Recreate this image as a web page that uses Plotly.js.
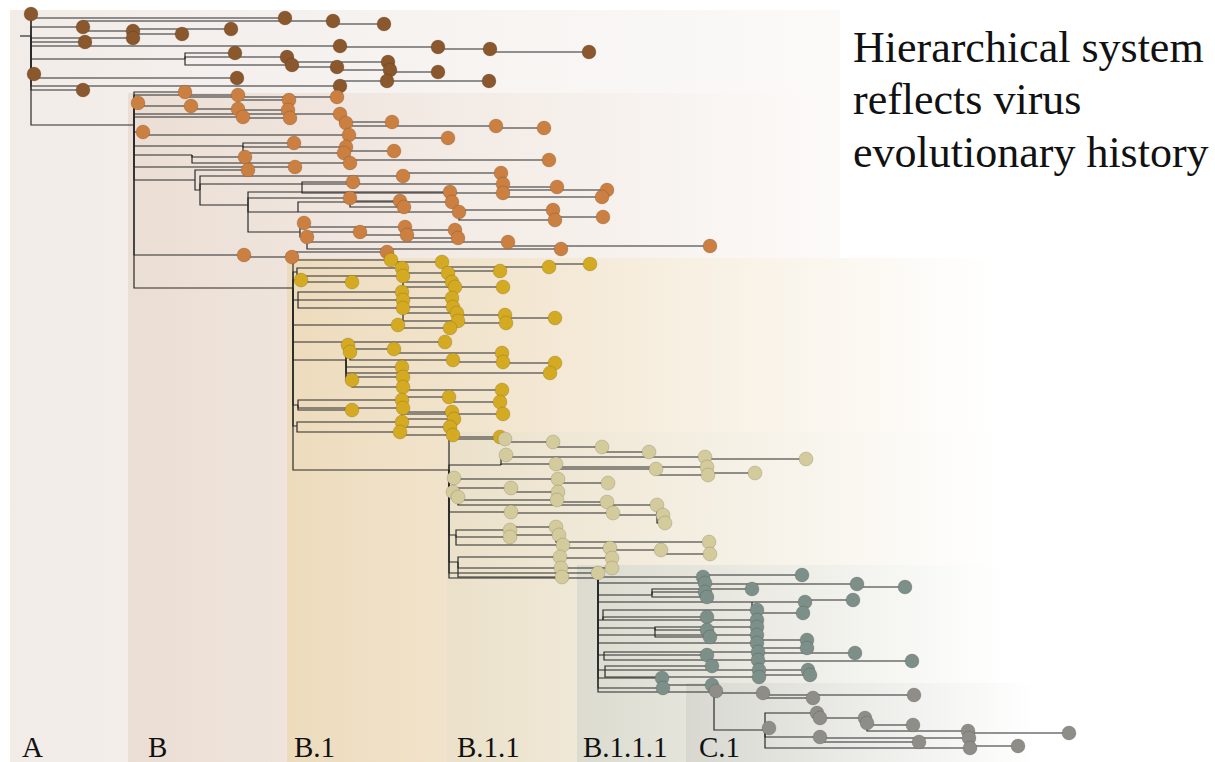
<!DOCTYPE html>
<html>
<head>
<meta charset="utf-8">
<script src="https://cdn.plot.ly/plotly-3.0.1.min.js"></script>
<style>html,body{margin:0;padding:0;background:#fff}#chart{width:1215px;height:762px}</style>
</head>
<body>
<div id="chart"></div>
<script>
// ---------------- DATA ----------------
// Tree nodes per lineage: [id, parentId, branchDepth, rowOrder, isSample]
const nodesA = [
  ['r',null,20,36,0],['a0','r',31,36,0],
  ['a1','a0',31,14,1],['a2','a0',83,27,1],['a3','a0',285,18,1],['a4','a2',333,21,1],['a5','a4',384,24,1],
  ['a6','a2',133,31,1],['a7','a6',231,29,1],['a8','a6',182,34,1],['a9','a0',133,38,1],['a10','a0',85,42,1],
  ['a11','a0',340,46,1],['a12','a11',438,47,1],['a13','a12',490,49,1],['a14','a13',589,52,1],
  ['a15','a0',185,59,0],['a16','a15',235,53,1],['a17','a15',287,57,1],['a18','a15',292,65,1],
  ['a19','a18',337,67,1],['a20','a17',388,62,1],['a21','a19',390,70,1],['a22','a21',438,72,1],
  ['a23','a0',34,74,1],['a24','a0',237,78,1],['a26','a0',340,86,1],['a27','a26',387,81,1],
  ['a28','a27',489,81,1],['a29','a0',83,90,1]
];
const nodesB = [
  ['bS','a0',134,125,0],
  ['b1','bS',185,92,1],['b2','b1',337,97,1],['b3','bS',238,95,1],['b4','b3',289,100,1],['b5','bS',138,103,1],
  ['b6','bS',191,106,1],['b7','b6',238,109,1],['b8','b7',288,110,1],['b9','b7',290,118,1],['b10','bS',243,117,1],
  ['b11','bS',340,114,1],['b12','b11',346,123,1],['b13','b12',392,122,1],['b14','b12',496,126,1],['b15','b14',544,128,1],
  ['b16','bS',143,132,1],['b17','b16',349,135,1],['b18','b17',448,138,1],
  ['b19','bS',243,146,0],['b20','b19',294,143,1],['b21','b19',346,147,1],['b22','b19',344,153,1],['b23','b22',394,151,1],
  ['b24','bS',192,155,0],['b25','b24',245,157,1],['b26','b24',350,163,1],['b27','b26',549,160,1],
  ['b28','bS',295,167,1],
  ['b30','bS',195,180,0],['b29','b30',248,170,1],['b32','b30',200,190,0],['b31','b32',403,176,1],['b33','b31',501,173,1],
  ['b34','b32',302,184,0],['b35','b34',353,182,1],['b36','b34',503,184,1],['b37','b34',503,193,1],
  ['b38','b36',557,187,1],['b39','b37',607,190,1],['b40','b37',602,197,1],
  ['b41','b32',248,205,0],['b45','b41',450,192,1],['b42','b41',350,198,1],['b43','b42',400,201,1],['b44','b42',404,207,1],
  ['b46','b41',298,212,0],['b47','b46',452,202,1],['b48','b46',459,212,1],['b49','b48',553,210,1],['b50','b48',555,220,1],['b51','b50',603,217,1],
  ['b53','b41',300,232,0],['b54','b53',304,223,1],['b55','b53',307,237,1],['b56','b55',360,232,1],['b57','b54',405,227,1],
  ['b58','b56',407,235,1],['b59','b57',455,230,1],['b60','b58',458,238,1],['b61','b55',508,242,1],['b62','b55',561,249,1],['b63','b61',710,246,1],
  ['b64','bS',244,255,1],['b65','b64',292,257,1],['b66','b65',387,252,1]
];
const nodesB1 = [
  ['c0','bS',293,288,0],
  ['c1','c0',391,260,1],['c2','c1',442,262,1],['c3','c2',549,267,1],['c4','c3',590,264,1],
  ['c5','c0',297,272,0],['c6','c5',402,268,1],['c7','c5',403,276,1],['c8','c6',448,273,1],['c9','c8',500,271,1],
  ['c10','c7',452,282,1],['c11','c7',455,287,1],['c12','c11',503,287,1],
  ['c13','c0',301,280,1],['c14','c13',352,282,1],
  ['c15','c0',298,300,0],['c16','c15',402,292,1],['c17','c15',403,300,1],['c18','c15',403,308,1],['c19','c16',452,298,1],
  ['c20','c17',453,307,1],['c21','c18',457,313,1],['c22','c18',458,321,1],['c23','c21',505,315,1],['c24','c22',506,323,1],['c25','c23',555,318,1],
  ['c27','c0',398,325,1],['c28','c27',450,328,1],['c29','c0',445,342,1],
  ['c30','c0',346,360,0],['c31','c30',348,345,1],['c32','c30',350,352,1],['c33','c31',394,349,1],['c34','c32',453,360,1],
  ['c35','c33',502,353,1],['c36','c34',503,362,1],['c37','c36',555,363,1],['c38','c30',550,373,1],
  ['c39','c30',352,380,1],['c40','c30',402,367,1],['c41','c30',403,377,1],['c42','c39',403,387,1],['c43','c42',502,390,1],
  ['c44','c0',298,405,0],['c45','c44',402,400,1],['c46','c44',403,408,1],['c47','c45',449,397,1],['c48','c47',500,402,1],
  ['c49','c44',352,410,1],['c50','c46',503,414,1],
  ['c51','c0',297,426,0],['c52','c51',402,422,1],['c53','c51',400,432,1],['c54','c52',452,412,1],['c55','c52',454,419,1],
  ['c56','c53',450,427,1],['c57','c53',453,435,1],['c58','c57',500,437,1]
];
const nodesB11 = [
  ['d0','c0',449,470,0],
  ['d1','d0',505,439,1],['d2','d1',553,442,1],['d3','d2',602,447,1],['d4','d3',649,452,1],
  ['d5','d0',501,465,0],['d6','d5',506,455,1],['d8','d5',556,464,1],['d7','d6',705,457,1],['d9','d7',806,459,1],
  ['d10','d8',656,469,1],['d11','d8',707,467,1],['d12','d10',708,475,1],['d13','d12',755,473,1],
  ['d14','d0',454,478,1],['d15','d14',558,479,1],['d16','d15',608,483,1],
  ['d18','d0',453,492,1],['d19','d0',458,497,1],['d20','d18',511,488,1],['d21','d20',558,492,1],['d22','d19',557,500,1],
  ['d23','d22',607,502,1],['d24','d19',657,505,1],['d28','d0',511,512,1],['d27','d28',613,513,1],['d25','d27',663,515,1],['d26','d24',665,523,1],
  ['d29','d0',456,535,0],['d30','d29',510,530,1],['d31','d29',510,537,1],['d32','d30',556,527,1],['d33','d31',559,535,1],
  ['d34','d29',563,545,1],['d35','d34',610,548,1],['d36','d35',661,550,1],['d37','d32',709,542,1],['d38','d36',710,554,1],
  ['d39','d0',458,562,0],['d40','d39',560,557,1],['d41','d39',561,568,1],['d42','d40',612,558,1],['d43','d41',612,568,1],
  ['d44','d39',562,577,1],['d45','d0',598,573,1]
];
const nodesB111 = [
  ['e0','d0',598,578,0],
  ['e1','e0',703,577,1],['e2','e1',802,575,1],['e3','e0',705,583,1],['e4','e3',857,584,1],['e5','e4',905,587,1],
  ['e6','e0',652,595,0],['e7','e6',752,589,1],['e8','e6',705,592,1],['e9','e6',707,597,1],
  ['e10','e0',752,602,0],['e11','e10',805,602,1],['e12','e11',853,600,1],['e13','e10',803,613,1],
  ['e14','e0',603,620,0],['e15','e14',707,617,1],['e16','e14',757,610,1],['e17','e14',757,620,1],
  ['e18','e0',655,628,0],['e19','e18',707,630,1],['e20','e18',757,627,1],['e21','e18',710,637,1],
  ['e22','e0',757,635,1],['e23','e22',807,640,1],['e24','e22',807,648,1],['e25','e0',757,643,1],
  ['e26','e0',604,655,0],['e27','e26',707,655,1],['e28','e26',758,652,1],['e29','e28',855,653,1],['e30','e26',758,660,1],['e31','e30',912,661,1],
  ['e32','e0',605,670,0],['e33','e32',712,666,1],['e34','e32',759,670,1],['e35','e34',808,670,1],['e36','e32',759,677,1],['e37','e36',810,675,1],
  ['e38','e0',662,678,1],['e39','e0',663,688,1],['e40','e39',712,685,1]
];
const nodesC1 = [
  ['f0','e0',714,692,0],
  ['f1','f0',716,691,1],['f2','f1',763,693,1],['f3','f2',813,698,1],['f4','f2',914,695,1],
  ['f5','f0',765,730,0],['f6','f5',769,728,1],['f7','f5',817,713,1],['f8','f7',820,718,1],['f9','f8',865,718,1],
  ['f10','f9',867,723,1],['f11','f10',913,725,1],['f12','f10',968,731,1],['f13','f12',1069,733,1],
  ['f14','f5',820,737,1],['f15','f14',919,742,1],['f16','f14',969,738,1],['f17','f5',970,748,1],['f18','f17',1018,746,1]
];

const lineageNames = ['A','B','B.1','B.1.1','B.1.1.1','C.1'];
const titleLines = ['Hierarchical system','reflects virus','evolutionary history'];

// ---------------- STYLE / LAYOUT ----------------
const lineageNodes = [nodesA,nodesB,nodesB1,nodesB11,nodesB111,nodesC1];
const tipColors = ['#8a582c','#cb7f40','#d4aa22','#d3cb9c','#7c8f88','#8f8d87'];
const bandLeft  = [10,128,287,447,577,686];
const bandTop   = [10,93,258,432,565,683];
const bandRight = [840,840,995,1005,1005,1035];
const bandColor = ['#f2ece8','#ebded4','#eddbbc','#ebe1ca','#dcdbcf','#d8d8d1'];
const bandEnd   = ['#fbfaf9','#fcfaf9','#ffffff','#ffffff','#ffffff','#ffffff'];
const labelX = [20,146,292,455,581,697];

const all = {};
lineageNodes.forEach(arr => arr.forEach(n => { all[n[0]] = n; }));

const traces = [];
// background bands
for (let i = 0; i < lineageNames.length; i++) {
  const L = bandLeft[i], R = bandRight[i], T = bandTop[i], B = 762;
  traces.push({
    type:'scatter', mode:'lines', x:[L,R,R,L,L], y:[T,T,B,B,T],
    fill:'toself', line:{width:0,color:'rgba(0,0,0,0)'},
    fillgradient:{type:'horizontal', start:L, stop:R, colorscale:[[0,bandColor[i]],[1,bandEnd[i]]]},
    hoverinfo:'skip', showlegend:false
  });
}
// branches
const lx = [], ly = [];
Object.values(all).forEach(n => {
  if (n[1] === null) return;
  const p = all[n[1]];
  lx.push(p[2], p[2], n[2], null);
  ly.push(p[3], n[3], n[3], null);
});
traces.push({type:'scatter', mode:'lines', x:lx, y:ly, line:{color:'#2b2b2b', width:1.2},
  hoverinfo:'skip', showlegend:false});
// samples
lineageNodes.forEach((arr, i) => {
  const tips = arr.filter(n => n[4] === 1);
  traces.push({type:'scatter', mode:'markers', name:lineageNames[i],
    x:tips.map(n => n[2]), y:tips.map(n => n[3]),
    marker:{size:14, color:tipColors[i], line:{width:0.6, color:'rgba(0,0,0,0.22)'}},
    hoverinfo:'skip', showlegend:false});
});

const annotations = [];
lineageNames.forEach((t, i) => annotations.push({
  text:t, x:labelX[i], y:747, xref:'x', yref:'y', xanchor:'left', yanchor:'middle', showarrow:false,
  font:{family:'"Liberation Serif", "Times New Roman", serif', size:29, color:'#111'}
}));
titleLines.forEach((t, i) => annotations.push({
  text:t, x:851, y:47 + i*52.5, xref:'x', yref:'y', xanchor:'left', yanchor:'middle', showarrow:false,
  font:{family:'"Liberation Serif", "Times New Roman", serif', size:44, color:'#111'}
}));

const layout = {
  width:1215, height:762, margin:{l:0,r:0,t:0,b:0},
  paper_bgcolor:'#ffffff', plot_bgcolor:'#ffffff',
  xaxis:{range:[0,1215], visible:false, fixedrange:true},
  yaxis:{range:[762,0], visible:false, fixedrange:true},
  showlegend:false, annotations:annotations
};
Plotly.newPlot('chart', traces, layout, {displayModeBar:false, staticPlot:true});
</script>
</body>
</html>
